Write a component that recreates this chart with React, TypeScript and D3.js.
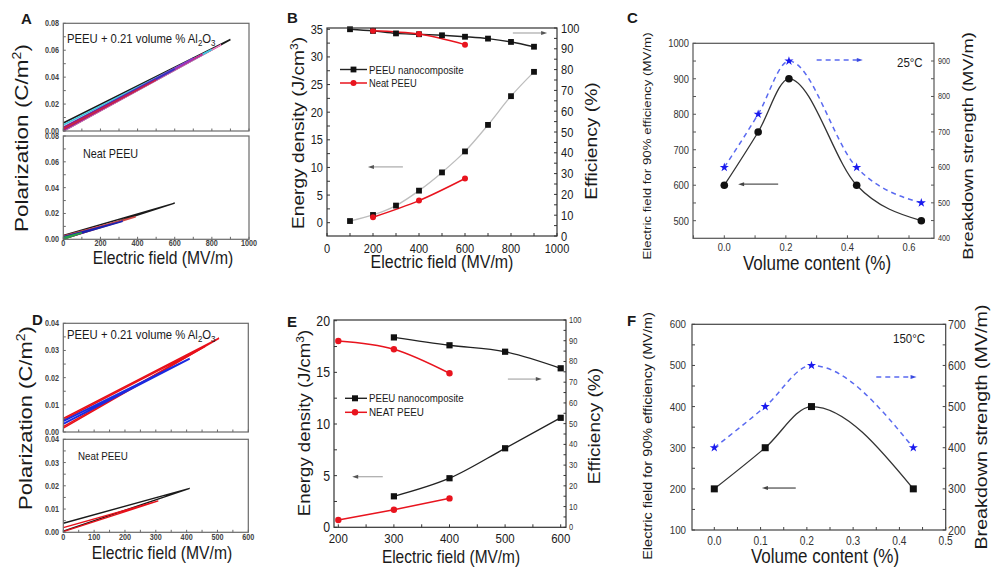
import React from 'react';
import * as d3 from 'd3';

const FONT = "'Liberation Sans', Arial, Helvetica, sans-serif";
const SQ = 0.85;

// ---------------- Panel A (P-E loops, 25 °C) ----------------
const aTopLoopEmax = [900, 850, 800, 750, 700, 600, 500];
const aTopLoopPmax = [0.068, 0.064, 0.0605, 0.057, 0.054, 0.046, 0.038];
const aTopLoopPstart = [0.0, 0.0, 0.001, 0.0005, 0.0005, 0.001, 0.001];
const aTopLoopPr = [0.006, 0.003, 0.0045, 0.0025, 0.002, 0.0025, 0.002];
const aTopLoopColors = ['#1a1a1a', '#f07cc0', '#3cc8e0', '#d0208c', '#8a3cc8', '#3434c0', '#c8204a'];

const aBotLoopEmax = [600, 390, 320, 100];
const aBotLoopPmax = [0.028, 0.0175, 0.014, 0.005];
const aBotLoopPstart = [0.0003, 0.0003, 0.0005, 0.0];
const aBotLoopPr = [0.003, 0.0025, 0.002, 0.0015];
const aBotLoopColors = ['#1a1a1a', '#d04848', '#1a22b0', '#28a048'];

// ---------------- Panel B ----------------
const bFieldComposite = [100, 200, 300, 400, 500, 600, 700, 800, 900];
const bEnergyComposite = [0.3, 1.4, 3.1, 5.8, 9.1, 12.9, 17.7, 22.9, 27.3];
const bEffComposite = [99.4, 98.6, 97.4, 97.0, 96.5, 95.8, 94.9, 93.3, 91.0];
const bFieldNeat = [200, 400, 600];
const bEnergyNeat = [1.0, 4.0, 8.0];
const bEffNeat = [98.7, 97.1, 92.0];

// ---------------- Panel C ----------------
const cContent = [0, 0.11, 0.21, 0.43, 0.64];
const cField90 = [600, 750, 900, 600, 500];
const cBreakdown = [600, 750, 900, 600, 500];

// ---------------- Panel D (P-E loops, 150 °C) ----------------
const dTopLoopEmax = [505, 460, 410];
const dTopLoopPmax = [0.0345, 0.0315, 0.027];
const dTopLoopPstart = [0.0014, 0.002, 0.003];
const dTopLoopPr = [0.005, 0.0045, 0.004];
const dTopLoopColors = ['#e8101a', '#e8101a', '#1a2ae0'];

const dBotLoopEmax = [410, 308];
const dBotLoopPmax = [0.0189, 0.0135];
const dBotLoopPstart = [0.0005, 0.0003];
const dBotLoopPr = [0.0039, 0.002];
const dBotLoopColors = ['#1a1a1a', '#e8101a'];

// ---------------- Panel E ----------------
const eFieldComposite = [300, 400, 500, 600];
const eEnergyComposite = [3.0, 4.75, 7.65, 10.6];
const eEffComposite = [91.6, 87.8, 84.7, 76.7];
const eFieldNeat = [200, 300, 400];
const eEnergyNeat = [0.7, 1.7, 2.8];
const eEffNeat = [89.9, 85.9, 74.3];

// ---------------- Panel F ----------------
const fContent = [0, 0.11, 0.21, 0.43];
const fField90 = [200, 300, 400, 200];
const fBreakdown = [400, 500, 600, 400];

// tick value lists
const aXTicks = [0, 200, 400, 600, 800, 1000];
const aYTicks = [0, 0.02, 0.04, 0.06, 0.08];
const dXTicks = [0, 100, 200, 300, 400, 500, 600];
const dYTicks = [0, 0.01, 0.02, 0.03, 0.04];
const bXTicks = [0, 200, 400, 600, 800, 1000];
const bYLeftTicks = [0, 5, 10, 15, 20, 25, 30, 35];
const bYRightTicks = [0, 10, 20, 30, 40, 50, 60, 70, 80, 90, 100];
const cXTicks = [0, 0.2, 0.4, 0.6];
const cYLeftTicks = [500, 600, 700, 800, 900, 1000];
const cYRightTicks = [400, 500, 600, 700, 800, 900];
const eXTicks = [200, 300, 400, 500, 600];
const eYLeftTicks = [0, 5, 10, 15, 20];
const eYRightTicks = [0, 10, 20, 30, 40, 50, 60, 70, 80, 90, 100];
const fXTicks = [0, 0.1, 0.2, 0.3, 0.4, 0.5];
const fYLeftTicks = [100, 200, 300, 400, 500, 600];
const fYRightTicks = [200, 300, 400, 500, 600, 700];

type Sc = d3.ScaleLinear<number, number>;

function steps(a: number, b: number, s: number) {
  const r: number[] = [];
  for (let v = a; v <= b + 1e-9; v += s) r.push(+v.toFixed(6));
  return r;
}

function Txt(p: any) {
  const { x, y, size, anchor = 'start', rot = 0, fill = '#1a1a1a', weight = 'normal', sx = SQ, children } = p;
  return (
    <text
      transform={`translate(${x},${y}) scale(${sx},1)${rot ? ` rotate(${rot})` : ''}`}
      fontSize={size}
      textAnchor={anchor}
      fill={fill}
      fontWeight={weight}
      fontFamily={FONT}
    >
      {children}
    </text>
  );
}

function XTicks({ sc, vals, y, len, color = '#333' }: any) {
  return (
    <g>
      {vals.map((v: number) => (
        <line key={v} x1={sc(v)} x2={sc(v)} y1={y} y2={y - len} stroke={color} strokeWidth={1} />
      ))}
    </g>
  );
}
function YTicks({ sc, vals, x, len, color = '#333' }: any) {
  return (
    <g>
      {vals.map((v: number) => (
        <line key={v} x1={x} x2={x + len} y1={sc(v)} y2={sc(v)} stroke={color} strokeWidth={1} />
      ))}
    </g>
  );
}

function Arrow({ x1, y1, x2, y2, color, dash, head = '#333', w = 1.3 }: any) {
  const dir = Math.sign(x2 - x1);
  return (
    <g>
      <line x1={x1} y1={y1} x2={x2 - dir * 4} y2={y2} stroke={color} strokeWidth={w} strokeDasharray={dash} />
      <path d={`M${x2},${y2} L${x2 - dir * 6},${y2 - 2} L${x2 - dir * 6},${y2 + 2} Z`} fill={head} />
    </g>
  );
}

function loopPath(x: Sc, y: Sc, emax: number, pmax: number, p0: number, pr: number) {
  const pts: [number, number][] = [
    [0, p0],
    [emax, pmax],
    [0, pr],
  ];
  return d3.line().curve(d3.curveLinear)(pts.map(([e, p]) => [x(e), y(p)]) as [number, number][]) || '';
}

function Square({ cx, cy, s = 6, fill = '#111' }: any) {
  return <rect x={cx - s / 2} y={cy - s / 2} width={s} height={s} fill={fill} />;
}

function PanelLoops() {
  const xA = d3.scaleLinear().domain([0, 1000]).range([63.3, 249]);
  const yAt = d3.scaleLinear().domain([0, 0.08]).range([131, 23.3]);
  const yAb = d3.scaleLinear().domain([0, 0.08]).range([239.3, 136]);
  const xD = d3.scaleLinear().domain([0, 600]).range([63.3, 248.3]);
  const yDt = d3.scaleLinear().domain([0, 0.04]).range([432, 323.3]);
  const yDb = d3.scaleLinear().domain([0, 0.04]).range([532.3, 439.3]);
  const frame = '#6a6a6a';
  const box = (x: Sc, y: Sc) => (
    <rect x={x.range()[0]} y={y.range()[1]} width={x.range()[1] - x.range()[0]} height={y.range()[0] - y.range()[1]} fill="none" stroke={frame} strokeWidth={1.2} />
  );
  const lbl = { size: 8.5, fill: '#444', weight: 'bold' };
  const sub = (s: number) => (
    <>
      Al<tspan dy={3} fontSize={s * 0.7}>2</tspan>
      <tspan dy={-3}>O</tspan>
      <tspan dy={3} fontSize={s * 0.7}>3</tspan>
    </>
  );
  return (
    <g>
      {/* A top */}
      {aTopLoopEmax.map((e, i) => (
        <path key={'at' + i} d={loopPath(xA, yAt, e, aTopLoopPmax[i], aTopLoopPstart[i], aTopLoopPr[i])} fill="none" stroke={aTopLoopColors[i]} strokeWidth={1.6} />
      ))}
      {aBotLoopEmax.map((e, i) => (
        <path key={'ab' + i} d={loopPath(xA, yAb, e, aBotLoopPmax[i], aBotLoopPstart[i], aBotLoopPr[i])} fill="none" stroke={aBotLoopColors[i]} strokeWidth={1.5} />
      ))}
      {box(xA, yAt)}
      {box(xA, yAb)}
      {[yAt, yAb].map((y, k) => (
        <g key={'aticks' + k}>
          <XTicks sc={xA} vals={steps(0, 1000, 100)} y={y.range()[0]} len={2.5} color={frame} />
          <YTicks sc={y} vals={steps(0, 0.08, 0.01)} x={63.3} len={2.5} color={frame} />
          {aYTicks.map((v) => (
            <Txt key={v} x={59} y={y(v) + 3} anchor="end" {...lbl}>{v.toFixed(2)}</Txt>
          ))}
        </g>
      ))}
      {aXTicks.map((v) => (
        <Txt key={v} x={xA(v)} y={245.5} anchor="middle" {...lbl}>{v}</Txt>
      ))}
      <Txt x={67} y={42.5} size={13.3}>PEEU + 0.21 volume % {sub(13.3)}</Txt>
      <Txt x={83} y={158} size={12.7}>Neat PEEU</Txt>
      <Txt x={163} y={264} size={18.5} anchor="middle">Electric field (MV/m)</Txt>
      <Txt x={28} y={138} size={22.5} anchor="middle" rot={-90}>
        Polarization (C/m<tspan dy={-8} fontSize={14}>2</tspan><tspan dy={8}>)</tspan>
      </Txt>
      <Txt x={21} y={24} size={15} weight="bold" sx={1}>A</Txt>

      {/* D */}
      {dTopLoopEmax.map((e, i) => (
        <path key={'dt' + i} d={loopPath(xD, yDt, e, dTopLoopPmax[i], dTopLoopPstart[i], dTopLoopPr[i])} fill="none" stroke={dTopLoopColors[i]} strokeWidth={i === 2 ? 1.8 : 1.5} />
      ))}
      {dBotLoopEmax.map((e, i) => (
        <path key={'db' + i} d={loopPath(xD, yDb, e, dBotLoopPmax[i], dBotLoopPstart[i], dBotLoopPr[i])} fill="none" stroke={dBotLoopColors[i]} strokeWidth={1.4} />
      ))}
      {box(xD, yDt)}
      {box(xD, yDb)}
      {[yDt, yDb].map((y, k) => (
        <g key={'dticks' + k}>
          <XTicks sc={xD} vals={steps(0, 600, 50)} y={y.range()[0]} len={2.5} color={frame} />
          <YTicks sc={y} vals={steps(0, 0.04, 0.005)} x={63.3} len={2.5} color={frame} />
          {dYTicks.map((v) => (
            <Txt key={v} x={59} y={y(v) + 3} anchor="end" {...lbl}>{v.toFixed(2)}</Txt>
          ))}
        </g>
      ))}
      {dXTicks.map((v) => (
        <Txt key={v} x={xD(v)} y={539.5} anchor="middle" {...lbl}>{v}</Txt>
      ))}
      <Txt x={67} y={338.5} size={13.3}>PEEU + 0.21 volume % {sub(13.3)}</Txt>
      <Txt x={78} y={460} size={11.5}>Neat PEEU</Txt>
      <Txt x={162} y={559} size={18.5} anchor="middle">Electric field (MV/m)</Txt>
      <Txt x={32} y={418} size={22} anchor="middle" rot={-90}>
        Polarization (C/m<tspan dy={-8} fontSize={14}>2</tspan><tspan dy={8}>)</tspan>
      </Txt>
      <Txt x={32} y={325} size={15} weight="bold" sx={1}>D</Txt>
    </g>
  );
}

function PanelB() {
  const x = d3.scaleLinear().domain([0, 1000]).range([327, 557]);
  const yl = d3.scaleLinear().domain([0, 35]).range([222.7, 29.3]);
  const yr = d3.scaleLinear().domain([0, 100]).range([236, 28]);
  const smooth = d3.line<[number, number]>().curve(d3.curveMonotoneX);
  const red = '#e8141e';
  const ptsCE = bFieldComposite.map((f, i) => [x(f), yl(bEnergyComposite[i])] as [number, number]);
  const ptsCF = bFieldComposite.map((f, i) => [x(f), yr(bEffComposite[i])] as [number, number]);
  const ptsNE = bFieldNeat.map((f, i) => [x(f), yl(bEnergyNeat[i])] as [number, number]);
  const ptsNF = bFieldNeat.map((f, i) => [x(f), yr(bEffNeat[i])] as [number, number]);
  return (
    <g>
      <path d={smooth(ptsCE) || ''} fill="none" stroke="#bdbdbd" strokeWidth={1.3} />
      <path d={smooth(ptsCF) || ''} fill="none" stroke="#222" strokeWidth={1.4} />
      <path d={smooth(ptsNE) || ''} fill="none" stroke={red} strokeWidth={1.5} />
      <path d={smooth(ptsNF) || ''} fill="none" stroke={red} strokeWidth={1.5} />
      {ptsCE.map((p, i) => <Square key={'ce' + i} cx={p[0]} cy={p[1]} s={5.8} />)}
      {ptsCF.map((p, i) => <Square key={'cf' + i} cx={p[0]} cy={p[1]} s={5.8} />)}
      {ptsNE.map((p, i) => <circle key={'ne' + i} cx={p[0]} cy={p[1]} r={3} fill={red} />)}
      {ptsNF.map((p, i) => <circle key={'nf' + i} cx={p[0]} cy={p[1]} r={3} fill={red} />)}
      <rect x={327} y={28} width={230} height={208} fill="none" stroke="#333" strokeWidth={1.2} />
      <XTicks sc={x} vals={steps(0, 1000, 100)} y={236} len={3} />
      <YTicks sc={yl} vals={steps(0, 35, 2.5)} x={327} len={3} />
      <YTicks sc={yr} vals={steps(0, 100, 5)} x={557} len={-3} />
      {bXTicks.map((v) => <Txt key={v} x={x(v)} y={253} size={13} anchor="middle">{v}</Txt>)}
      {bYLeftTicks.map((v) => <Txt key={v} x={323} y={yl(v) + 4.5} size={13} anchor="end">{v}</Txt>)}
      {bYRightTicks.map((v) => <Txt key={v} x={561} y={yr(v) + 4.5} size={13}>{v}</Txt>)}
      {/* legend */}
      <line x1={340} x2={367} y1={69.5} y2={69.5} stroke="#222" strokeWidth={1.4} />
      <Square cx={353.5} cy={69.5} s={5.8} />
      <Txt x={369} y={73.5} size={11.4}>PEEU nanocomposite</Txt>
      <line x1={340} x2={367} y1={83} y2={83} stroke={red} strokeWidth={1.5} />
      <circle cx={353.5} cy={83} r={3} fill={red} />
      <Txt x={369} y={87} size={11}>Neat PEEU</Txt>
      <Arrow x1={x(330)} y1={yl(10.1)} x2={x(178)} y2={yl(10.1)} color="#b0b0b0" head="#555" />
      <Arrow x1={x(808)} y1={yr(97.6)} x2={x(957)} y2={yr(97.6)} color="#b0b0b0" head="#555" />
      <Txt x={442} y={268} size={18.8} anchor="middle">Electric field (MV/m)</Txt>
      <Txt x={304} y={133} size={19.2} anchor="middle" rot={-90}>
        Energy density (J/cm<tspan dy={-7} fontSize={12}>3</tspan><tspan dy={7}>)</tspan>
      </Txt>
      <Txt x={597} y={141} size={19.3} anchor="middle" rot={-90}>Efficiency (%)</Txt>
      <Txt x={287} y={23} size={15} weight="bold" sx={1}>B</Txt>
    </g>
  );
}

function PanelC() {
  const x = d3.scaleLinear().domain([0, 0.6]).range([724.3, 909]);
  const yl = d3.scaleLinear().domain([500, 1000]).range([220.7, 43.3]);
  const yr = d3.scaleLinear().domain([400, 900]).range([238.3, 61]);
  const smooth = d3.line<[number, number]>().curve(d3.curveMonotoneX);
  const blue = '#1a1aee';
  const ptsL = cContent.map((c, i) => [x(c), yl(cField90[i])] as [number, number]);
  const ptsR = cContent.map((c, i) => [x(c), yr(cBreakdown[i])] as [number, number]);
  const star = d3.symbol(d3.symbolStar, 26)() || '';
  return (
    <g>
      <path d={smooth(ptsR) || ''} fill="none" stroke="#5a6af0" strokeWidth={1.5} strokeDasharray="5,4" />
      <path d={smooth(ptsL) || ''} fill="none" stroke="#333" strokeWidth={1.3} />
      {ptsL.map((p, i) => <circle key={'l' + i} cx={p[0]} cy={p[1]} r={3.8} fill="#111" />)}
      {ptsR.map((p, i) => <path key={'r' + i} d={star} transform={`translate(${p[0]},${p[1]})`} fill={blue} />)}
      <rect x={693} y={43.3} width={241} height={195} fill="none" stroke="#555" strokeWidth={1.2} />
      <XTicks sc={x} vals={steps(-0.1, 0.6, 0.1)} y={238.3} len={3} color="#555" />
      <YTicks sc={yl} vals={steps(500, 1000, 50)} x={693} len={3} color="#555" />
      <YTicks sc={yr} vals={steps(400, 950, 50)} x={934} len={-3} color="#555" />
      {cXTicks.map((v) => <Txt key={v} x={x(v)} y={250.5} size={11} anchor="middle" fill="#333">{v.toFixed(1)}</Txt>)}
      {cYLeftTicks.map((v) => <Txt key={v} x={689} y={yl(v) + 3.8} size={11} anchor="end" fill="#333">{v}</Txt>)}
      {cYRightTicks.map((v) => <Txt key={v} x={938} y={yr(v) + 3} size={8.5} fill="#333">{v}</Txt>)}
      <Arrow x1={x(0.175)} y1={yl(603)} x2={x(0.045)} y2={yl(603)} color="#555" head="#444" />
      <Arrow x1={x(0.3)} y1={yr(903)} x2={x(0.45)} y2={yr(903)} color="#5a6af0" head="#3a4ae0" dash="5,4" w={1.5} />
      <Txt x={897} y={66.5} size={13.5}>25°C</Txt>
      <Txt x={817} y={269.5} size={20} anchor="middle">Volume content (%)</Txt>
      <Txt x={651} y={146} size={13.3} anchor="middle" rot={-90}>Electric field for 90% efficiency (MV/m)</Txt>
      <Txt x={973} y={146} size={18.3} anchor="middle" rot={-90}>Breakdown strength (MV/m)</Txt>
      <Txt x={627} y={23} size={15} weight="bold" sx={1}>C</Txt>
    </g>
  );
}

function PanelE() {
  const x = d3.scaleLinear().domain([200, 600]).range([338.3, 560.7]);
  const yl = d3.scaleLinear().domain([0, 20]).range([527.3, 320.7]);
  const yr = d3.scaleLinear().domain([0, 100]).range([527.3, 320]);
  const smooth = d3.line<[number, number]>().curve(d3.curveMonotoneX);
  const red = '#e8141e';
  const ptsCE = eFieldComposite.map((f, i) => [x(f), yl(eEnergyComposite[i])] as [number, number]);
  const ptsCF = eFieldComposite.map((f, i) => [x(f), yr(eEffComposite[i])] as [number, number]);
  const ptsNE = eFieldNeat.map((f, i) => [x(f), yl(eEnergyNeat[i])] as [number, number]);
  const ptsNF = eFieldNeat.map((f, i) => [x(f), yr(eEffNeat[i])] as [number, number]);
  return (
    <g>
      <path d={smooth(ptsCE) || ''} fill="none" stroke="#222" strokeWidth={1.4} />
      <path d={smooth(ptsCF) || ''} fill="none" stroke="#222" strokeWidth={1.4} />
      <path d={smooth(ptsNE) || ''} fill="none" stroke={red} strokeWidth={1.5} />
      <path d={smooth(ptsNF) || ''} fill="none" stroke={red} strokeWidth={1.5} />
      {ptsCE.map((p, i) => <Square key={'ce' + i} cx={p[0]} cy={p[1]} s={6.2} />)}
      {ptsCF.map((p, i) => <Square key={'cf' + i} cx={p[0]} cy={p[1]} s={6.2} />)}
      {ptsNE.map((p, i) => <circle key={'ne' + i} cx={p[0]} cy={p[1]} r={3.2} fill={red} />)}
      {ptsNF.map((p, i) => <circle key={'nf' + i} cx={p[0]} cy={p[1]} r={3.2} fill={red} />)}
      <rect x={334} y={320} width={232} height={207.3} fill="none" stroke="#333" strokeWidth={1.2} />
      <XTicks sc={x} vals={steps(200, 600, 50)} y={527.3} len={3} />
      <YTicks sc={yl} vals={steps(0, 20, 2.5)} x={334} len={3} />
      <YTicks sc={yr} vals={steps(0, 100, 5)} x={566} len={-2.5} />
      {eXTicks.map((v) => <Txt key={v} x={x(v)} y={543} size={13.5} anchor="middle">{v}</Txt>)}
      {eYLeftTicks.map((v) => <Txt key={v} x={330} y={yl(v) + 5} size={14.5} anchor="end">{v}</Txt>)}
      {eYRightTicks.map((v) => <Txt key={v} x={569} y={yr(v) + 3} size={8.8} fill="#333">{v}</Txt>)}
      <line x1={345} x2={367} y1={398.3} y2={398.3} stroke="#222" strokeWidth={1.4} />
      <Square cx={355} cy={398.3} s={6} />
      <Txt x={369} y={402.3} size={11.4}>PEEU nanocomposite</Txt>
      <line x1={345} x2={367} y1={412.3} y2={412.3} stroke={red} strokeWidth={1.5} />
      <circle cx={355} cy={412.3} r={3.2} fill={red} />
      <Txt x={369} y={416.3} size={11.6}>NEAT PEEU</Txt>
      <Arrow x1={x(280)} y1={yl(4.9)} x2={x(225)} y2={yl(4.9)} color="#b0b0b0" head="#555" />
      <Arrow x1={x(505)} y1={yr(71.5)} x2={x(566)} y2={yr(71.5)} color="#b0b0b0" head="#555" />
      <Txt x={451} y={562.5} size={18.2} anchor="middle">Electric field (MV/m)</Txt>
      <Txt x={309.5} y={423} size={18.6} anchor="middle" rot={-90}>
        Energy density (J/cm<tspan dy={-7} fontSize={12}>3</tspan><tspan dy={7}>)</tspan>
      </Txt>
      <Txt x={600} y={426} size={19.1} anchor="middle" rot={-90}>Efficiency (%)</Txt>
      <Txt x={287} y={327} size={15} weight="bold" sx={1}>E</Txt>
    </g>
  );
}

function PanelF() {
  const x = d3.scaleLinear().domain([0, 0.5]).range([714.3, 945.7]);
  const yl = d3.scaleLinear().domain([100, 600]).range([530, 324.3]);
  const yr = d3.scaleLinear().domain([200, 700]).range([530, 324.3]);
  const smooth = d3.line<[number, number]>().curve(d3.curveMonotoneX);
  const blue = '#1a1aee';
  const ptsL = fContent.map((c, i) => [x(c), yl(fField90[i])] as [number, number]);
  const ptsR = fContent.map((c, i) => [x(c), yr(fBreakdown[i])] as [number, number]);
  const star = d3.symbol(d3.symbolStar, 26)() || '';
  return (
    <g>
      <path d={smooth(ptsR) || ''} fill="none" stroke="#5a6af0" strokeWidth={1.5} strokeDasharray="5,4" />
      <path d={smooth(ptsL) || ''} fill="none" stroke="#333" strokeWidth={1.3} />
      {ptsL.map((p, i) => <Square key={'l' + i} cx={p[0]} cy={p[1]} s={7} />)}
      {ptsR.map((p, i) => <path key={'r' + i} d={star} transform={`translate(${p[0]},${p[1]})`} fill={blue} />)}
      <rect x={692} y={324.3} width={253.7} height={205.7} fill="none" stroke="#444" strokeWidth={1.2} />
      <XTicks sc={x} vals={steps(0, 0.5, 0.05)} y={530} len={3} color="#444" />
      <YTicks sc={yl} vals={steps(100, 600, 50)} x={692} len={3} color="#444" />
      <YTicks sc={yr} vals={steps(200, 700, 50)} x={945.7} len={-3} color="#444" />
      {fXTicks.map((v) => <Txt key={v} x={x(v)} y={545} size={12} anchor="middle" fill="#333">{v.toFixed(1)}</Txt>)}
      {fYLeftTicks.map((v) => <Txt key={v} x={686} y={yl(v) + 4} size={11.5} anchor="end" fill="#333">{v}</Txt>)}
      {fYRightTicks.map((v) => <Txt key={v} x={948} y={yr(v) + 4.5} size={12.5} fill="#333">{v}</Txt>)}
      <Arrow x1={x(0.176)} y1={yl(202)} x2={x(0.103)} y2={yl(202)} color="#555" head="#444" />
      <Arrow x1={x(0.35)} y1={yr(572)} x2={x(0.437)} y2={yr(572)} color="#5a6af0" head="#3a4ae0" dash="5,4" w={1.5} />
      <Txt x={893} y={343} size={13.5}>150°C</Txt>
      <Txt x={825} y={562.5} size={20} anchor="middle">Volume content (%)</Txt>
      <Txt x={652} y={436} size={14.5} anchor="middle" rot={-90}>Electric field for 90% efficiency (MV/m)</Txt>
      <Txt x={987} y={427} size={19.7} anchor="middle" rot={-90}>Breakdown strength (MV/m)</Txt>
      <Txt x={627} y={326} size={15} weight="bold" sx={1}>F</Txt>
    </g>
  );
}

export default function App() {
  return (
    <svg
      width={992}
      height={567}
      viewBox="0 0 992 567"
      style={{ position: 'absolute', left: 0, top: 0, background: '#fff' }}
      fontFamily={FONT}
    >
      <rect x={0} y={0} width={992} height={567} fill="#fff" />
      <PanelLoops />
      <PanelB />
      <PanelC />
      <PanelE />
      <PanelF />
    </svg>
  );
}
